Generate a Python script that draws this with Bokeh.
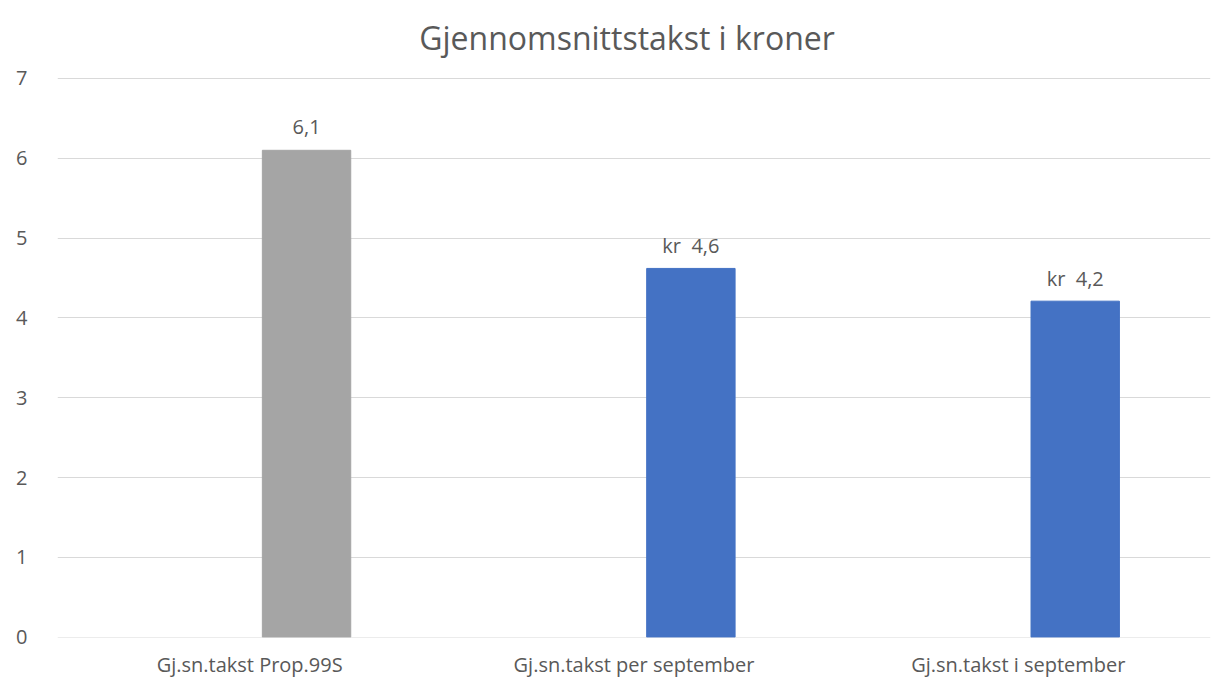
from bokeh.plotting import figure
from bokeh.models import ColumnDataSource, LabelSet, Label, FactorRange, Range1d, SingleIntervalTicker
from bokeh.transform import dodge
from bokeh.core.properties import value
from bokeh.embed import file_html
from bokeh.resources import INLINE

title_text = "Gjennomsnittstakst i kroner"
categories = ["Gj.sn.takst Prop.99S", "Gj.sn.takst per september", "Gj.sn.takst i september"]
values = [6.1, 4.62, 4.21]
labels = ["6,1", "kr \u00a04,6", "kr \u00a04,2"]
colors = ["#A5A5A5", "#4472C4", "#4472C4"]
y_max_tick = 7

FONT = "Open Sans"
TXT = "#595959"
BAR_SHIFT = 0.148

src = ColumnDataSource(dict(cat=categories, val=values, lab=labels, col=colors))

# frame extends to the top of the canvas so the title can sit inside it
p = figure(x_range=FactorRange(*categories, range_padding=0), y_range=Range1d(-0.004, 7.977),
           frame_width=1153, frame_height=637, output_backend="svg", toolbar_location=None)
p.min_border_left = 57
p.min_border_right = 20
p.min_border_top = 0
p.min_border_bottom = 43
p.outline_line_color = None
p.background_fill_color = "white"

p.vbar(x=dodge("cat", BAR_SHIFT, range=p.x_range), top="val", width=0.23, color="col", source=src)

p.add_layout(LabelSet(x=dodge("cat", BAR_SHIFT, range=p.x_range), y="val", text="lab", source=src,
                      text_align="center", text_baseline="middle", y_offset=23,
                      text_font=value(FONT), text_font_size=value("20px"), text_color=TXT))

p.add_layout(Label(x=len(categories) / 2, y=y_max_tick, x_offset=-7, y_offset=41, text=title_text,
                   text_align="center", text_baseline="alphabetic", text_font=FONT,
                   text_font_size="32px", text_color=TXT))

p.yaxis.ticker = SingleIntervalTicker(interval=1)
p.yaxis.axis_line_color = None
p.yaxis.major_tick_line_color = None
p.yaxis.minor_tick_line_color = None
p.yaxis.major_label_text_font = FONT
p.yaxis.major_label_text_font_size = "20px"
p.yaxis.major_label_text_color = TXT
p.yaxis.major_label_standoff = 24

p.xaxis.axis_line_color = None
p.xaxis.major_tick_line_color = None
p.xaxis.minor_tick_line_color = None
p.xaxis.major_label_text_font = FONT
p.xaxis.major_label_text_font_size = "20px"
p.xaxis.major_label_text_color = TXT
p.xaxis.major_label_standoff = 7

p.xgrid.grid_line_color = None
p.ygrid.grid_line_color = "#D9D9D9"
p.ygrid.grid_line_width = 1

open("out.html", "w").write(file_html(p, INLINE))
